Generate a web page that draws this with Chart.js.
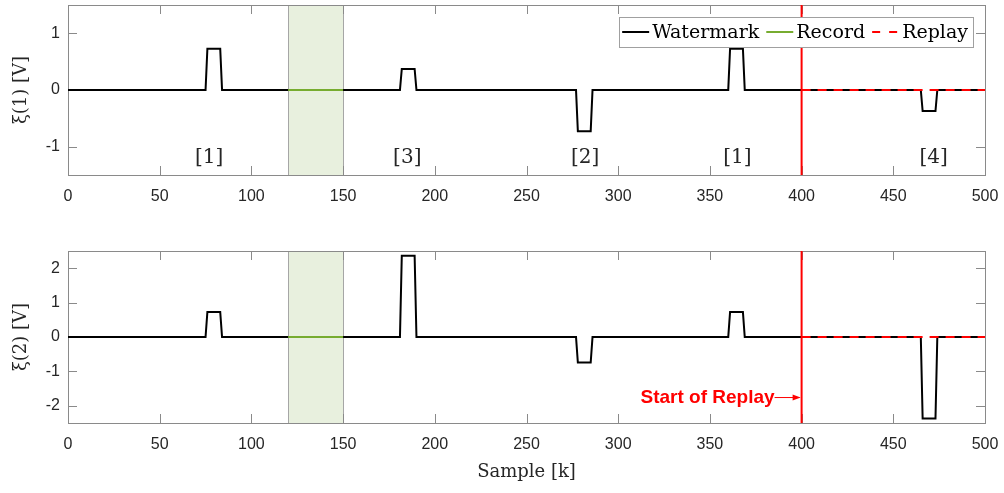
<!DOCTYPE html>
<html>
<head>
<meta charset="utf-8">
<script src="https://cdn.jsdelivr.net/npm/chart.js@4.4.0/dist/chart.umd.min.js"></script>
<style>
body{margin:0;background:#fff;width:1004px;height:493px;overflow:hidden}
.box{position:absolute;left:0;width:1004px}
#top_box{top:0;height:215px}
#bot_box{top:246px;height:247px}
</style>
</head>
<body>
<div class="box" id="top_box"><canvas id="chart1"></canvas></div>
<div class="box" id="bot_box"><canvas id="chart2"></canvas></div>
<script>
// watermark breakpoints (sample k) and values for both channels
const sample_k = [0,75,76,83,84,181,182,189,190,277,278,285,286,360,361,368,369,465,466,473,474,500];
const xi_1 = [0,0,0.73,0.73,0,0,0.37,0.37,0,0,-0.73,-0.73,0,0,0.73,0.73,0,0,-0.37,-0.37,0,0];
const xi_2 = [0,0,0.73,0.73,0,0,2.36,2.36,0,0,-0.74,-0.74,0,0,0.73,0.73,0,0,-2.37,-2.37,0,0];

const record_k = [120,150];
const record_v = [0,0];
const replay_k = [400,500];
const replay_v = [0,0];

const record_start = 120, record_end = 150, replay_start = 400;

const x_ticks = [0,50,100,150,200,250,300,350,400,450,500];
const y_ticks_1 = [-1,0,1];
const y_ticks_2 = [-2,-1,0,1,2];

const mark_text = ['[1]','[3]','[2]','[1]','[4]'];
const mark_k = [77,185,282,365,472];
const mark_v = -1.2;

const legend_names = ['Watermark','Record','Replay'];
const GREEN = '#77ac30', RED = '#ff0000', AXIS = '#8a8a8a', TXT = '#262626';

function pts(xs, ys){ return xs.map((x,i)=>({x:x, y:ys[i]})); }

const deco = {
    id:'deco',
    beforeDatasetsDraw(chart){
        const ctx = chart.ctx, a = chart.chartArea, x = chart.scales.x, y = chart.scales.y;
        const x0 = x.getPixelForValue(record_start), x1 = x.getPixelForValue(record_end);
        ctx.save();
        ctx.fillStyle = 'rgb(232,240,222)';
        ctx.fillRect(x0, a.top, x1-x0, a.bottom-a.top);
        ctx.strokeStyle = '#a6a6a6';
        ctx.lineWidth = 1;
        ctx.beginPath();
        ctx.moveTo(Math.round(x0)+0.5, a.top); ctx.lineTo(Math.round(x0)+0.5, a.bottom);
        ctx.moveTo(Math.round(x1)+0.5, a.top); ctx.lineTo(Math.round(x1)+0.5, a.bottom);
        ctx.stroke();

        // box + inward ticks
        ctx.strokeStyle = AXIS; ctx.lineWidth = 1;
        ctx.strokeRect(Math.round(a.left)+0.5, Math.round(a.top)+0.5, Math.round(a.right-a.left), Math.round(a.bottom-a.top));
        ctx.beginPath();
        x.ticks.forEach(t=>{
            const px = Math.round(x.getPixelForValue(t.value))+0.5;
            ctx.moveTo(px, a.bottom); ctx.lineTo(px, a.bottom-9);
            ctx.moveTo(px, a.top); ctx.lineTo(px, a.top+9);
        });
        y.ticks.forEach(t=>{
            const py = Math.round(y.getPixelForValue(t.value))+0.5;
            ctx.moveTo(a.left, py); ctx.lineTo(a.left+9, py);
            ctx.moveTo(a.right, py); ctx.lineTo(a.right-9, py);
        });
        ctx.stroke();
        ctx.restore();
    },
    afterDatasetsDraw(chart, args, opts){
        const ctx = chart.ctx, a = chart.chartArea, x = chart.scales.x, y = chart.scales.y;
        ctx.save();
        // start of replay line
        const xr = x.getPixelForValue(replay_start);
        ctx.strokeStyle = RED; ctx.lineWidth = 2;
        ctx.beginPath(); ctx.moveTo(xr, a.top); ctx.lineTo(xr, a.bottom); ctx.stroke();

        if (opts.marks){
            ctx.fillStyle = TXT;
            ctx.font = '20px "DejaVu Serif"';
            ctx.textAlign = 'center'; ctx.textBaseline = 'middle';
            mark_text.forEach((m,i)=>{
                ctx.fillText(m, x.getPixelForValue(mark_k[i]), y.getPixelForValue(mark_v));
            });
        }

        if (opts.legend){
            ctx.font = '19px "DejaVu Serif"';
            const lineW = 27, gap1 = 3, gap2 = 7;
            let total = 4;
            legend_names.forEach((n,i)=>{ total += lineW + gap1 + ctx.measureText(n).width + (i<2?gap2:0); });
            total += 4;
            const right = a.right - 12, left = right - total, top = 17, bot = 47;
            ctx.fillStyle = '#fff';
            ctx.fillRect(left, top, total, bot-top);
            ctx.strokeStyle = '#a0a0a0'; ctx.lineWidth = 1;
            ctx.strokeRect(Math.round(left)+0.5, top+0.5, Math.round(total), bot-top);
            let cx = left + 3;
            const cy = (top+bot)/2;
            const cols = ['#000', GREEN, RED];
            legend_names.forEach((n,i)=>{
                ctx.strokeStyle = cols[i]; ctx.lineWidth = 2;
                ctx.setLineDash(i==2 ? [8,9] : []);
                ctx.beginPath(); ctx.moveTo(cx, cy); ctx.lineTo(cx+lineW, cy); ctx.stroke();
                ctx.setLineDash([]);
                cx += lineW + gap1;
                ctx.fillStyle = '#000'; ctx.textAlign = 'left'; ctx.textBaseline = 'middle';
                ctx.fillText(n, cx, cy+1);
                cx += ctx.measureText(n).width + gap2;
            });
        }

        if (opts.arrow){
            const ay = y.getPixelForValue(-1.76);
            ctx.fillStyle = RED;
            ctx.font = 'bold 19px "Liberation Sans"';
            ctx.textAlign = 'right'; ctx.textBaseline = 'middle';
            ctx.fillText('Start of Replay', xr-27, ay);
            ctx.strokeStyle = RED; ctx.lineWidth = 1;
            ctx.beginPath();
            ctx.moveTo(xr-27, ay); ctx.lineTo(xr-2, ay);
            ctx.stroke();
            ctx.beginPath();
            ctx.moveTo(xr-1, ay); ctx.lineTo(xr-9, ay-3); ctx.lineTo(xr-9, ay+3); ctx.closePath();
            ctx.fill();
        }
        ctx.restore();
    }
};

function make_chart(id, values, y_ticks, ymin, ymax, ylabel, is_bottom){
    const ctx = document.getElementById(id);
    return new Chart(ctx, {
        type:'line',
        data:{
            datasets:[
                {label:'Watermark', data:pts(sample_k, values), borderColor:'#000', borderWidth:2, pointRadius:0, order:2},
                {label:'Record', data:pts(record_k, record_v), borderColor:GREEN, borderWidth:2, pointRadius:0, order:1},
                {label:'Replay', data:pts(replay_k, replay_v), borderColor:RED, borderWidth:2, borderDash:[9,7], pointRadius:0, order:1}
            ]
        },
        options:{
            responsive:true,
            maintainAspectRatio:false,
            animation:false,
            devicePixelRatio:1,
            layout:{padding:{top:5, right:19, left:0, bottom:0}},
            plugins:{
                legend:{display:false},
                tooltip:{enabled:false},
                deco:{marks:!is_bottom, legend:!is_bottom, arrow:is_bottom}
            },
            scales:{
                x:{
                    type:'linear', min:0, max:500,
                    afterBuildTicks: s => { s.ticks = x_ticks.map(v=>({value:v})); },
                    afterFit: s => { s.height = is_bottom ? 70 : 40; s.paddingLeft = 0; s.paddingRight = 0; },
                    grid:{display:false, drawTicks:false},
                    border:{display:false},
                    ticks:{color:TXT, font:{family:'Liberation Sans', size:16}, padding:12, maxRotation:0},
                    title:{display:is_bottom, text:'Sample [k]', color:TXT, font:{family:'DejaVu Serif', size:18}, padding:{top:0, bottom:10}}
                },
                y:{
                    type:'linear', min:ymin, max:ymax,
                    afterBuildTicks: s => { s.ticks = y_ticks.map(v=>({value:v})); },
                    afterFit: s => { s.width = 68; s.paddingTop = 0; s.paddingBottom = 0; },
                    grid:{display:false, drawTicks:false},
                    border:{display:false},
                    ticks:{color:TXT, font:{family:'Liberation Sans', size:16}, padding:8},
                    title:{display:true, text:ylabel, color:TXT, font:{family:'DejaVu Serif', size:18}, padding:{top:11, bottom:0}}
                }
            }
        },
        plugins:[deco]
    });
}

make_chart('chart1', xi_1, y_ticks_1, -1.5, 1.5, 'ξ(1) [V]', false);
make_chart('chart2', xi_2, y_ticks_2, -2.5, 2.5, 'ξ(2) [V]', true);
</script>
</body>
</html>
